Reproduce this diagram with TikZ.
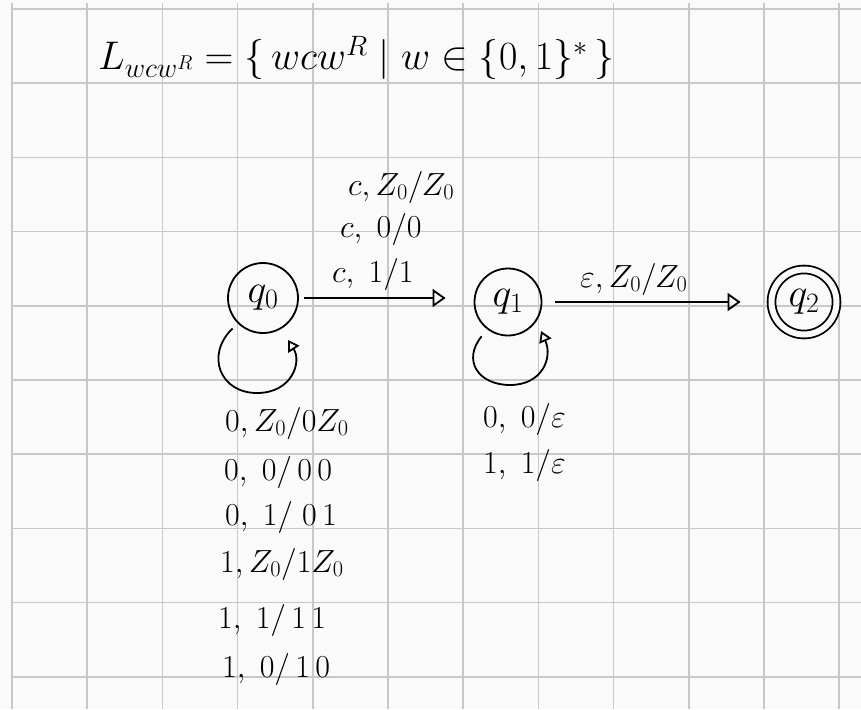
\RequirePackage{fix-cm}
\documentclass[tikz,border=0pt]{standalone}
\usetikzlibrary{arrows.meta}
\definecolor{paper}{HTML}{FAFAFA}
\definecolor{gridc}{HTML}{C8C8C8}
\tikzset{
  ink/.style={line width=1.8pt, draw=black},
  state/.style={circle, ink, minimum size=70pt, inner sep=0pt, font=\fontsize{40}{44}\selectfont},
  accstate/.style={state, double=paper, double distance=6pt, minimum size=65pt},
  tip/.style={-{Triangle[open, length=13pt, width=18pt, line width=1.8pt]}},
  looptip/.style={-{Triangle[open, length=11pt, width=13pt, line width=1.8pt]}},
  lbl/.style={font=\fontsize{32}{36}\selectfont, inner sep=0pt, anchor=base west},
  titlelbl/.style={font=\fontsize{40}{44}\selectfont, inner sep=0pt, anchor=base west},
  gridline/.style={draw=gridc, line width=1.6pt},
}
\begin{document}
\begin{tikzpicture}[x=1pt,y=-1pt]
\fill[paper] (0,0) rectangle (861,709);
\useasboundingbox (0,0) rectangle (861,709);
\foreach \i in {0,...,11} \draw[gridline] ({12+75.2*\i},3) -- ({12+75.2*\i},709);
\foreach \j in {0,...,9} \draw[gridline] (12,{9+74.2*\j}) -- (861,{9+74.2*\j});

% title
\node[titlelbl] (title) at (98,70) {$L_{wcw^R} = \{\, wcw^R \mid w \in \{0,1\}^* \,\}$};

% states
\node[state] (q0) at (263,298) {$q_0$};
\node[state, minimum size=67pt] (q1) at (508,302) {$q_1$};
\node[accstate] (q2) at (804,302) {$q_2$};

% transitions
\draw[ink, tip, shorten <=5pt, shorten >=28pt] (q0.east) -- (q0.east -| q1.west);
\draw[ink, tip, shorten <=13pt, shorten >=30pt] (q1.east) -- (q2.west);

% self loops
\draw[ink, looptip] ([shift={(-5,5)}]q0.225) .. controls (205,355) and (220,393) .. (257,393)
  .. controls (292,393) and (302,362) .. ([shift={(25,42)}]q0.center);
\draw[ink, looptip] ([shift={(-2,10)}]q1.225) .. controls (462,360) and (478,385) .. (510,385)
  .. controls (542,385) and (553,358) .. ([shift={(33,29)}]q1.center);

% labels q0 -> q1
\node[lbl] (c1) at (348,195) {$c,Z_0/Z_0$};
\node[lbl] (c2) at (340,237) {$c,\;0/0$};
\node[lbl] (c3) at (332,282) {$c,\;1/1$};

% label q1 -> q2
\node[lbl] (e1) at (580,287) {$\varepsilon,Z_0/Z_0$};

% loop labels q0
\node[lbl] (l1) at (225,431) {$0,Z_0/0Z_0$};
\node[lbl] (l2) at (224,480) {$0,\;0/\,0\,0$};
\node[lbl] (l3) at (225,525) {$0,\;1/\;0\,1$};
\node[lbl] (l4) at (220,572) {$1,Z_0/1Z_0$};
\node[lbl] (l5) at (218,628) {$1,\;1/\,1\,1$};
\node[lbl] (l6) at (222,677) {$1,\;0/\,1\,0$};

% loop labels q1
\node[lbl] (m1) at (483,427) {$0,\;0/\varepsilon$};
\node[lbl] (m2) at (483,473) {$1,\;1/\varepsilon$};
\end{tikzpicture}
\end{document}
